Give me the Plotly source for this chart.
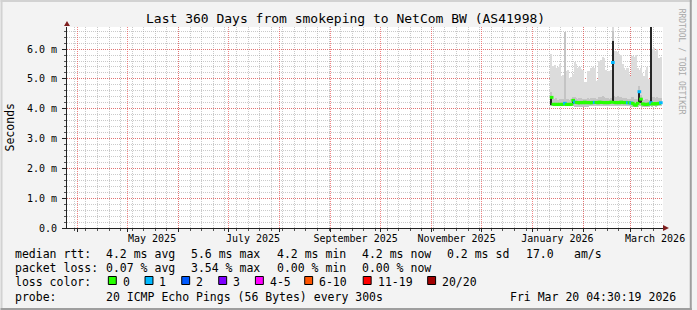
import pandas as pd
import plotly.graph_objects as go

# ---------------- data ----------------
TITLE = "Last 360 Days from smokeping to NetCom BW (AS41998)"
days = pd.date_range("2026-01-12", periods=67, freq="D")

median_ms = [4.38, 4.15, 4.14, 4.15, 4.14, 4.15, 4.14, 4.15, 4.18, 4.14,
             4.15, 4.14, 4.15, 4.28, 4.22, 4.21, 4.20, 4.20, 4.21, 4.20,
             4.22, 4.20, 4.21, 4.20, 4.20, 4.21, 4.21, 4.21, 4.20, 4.22,
             4.21, 4.21, 4.20, 4.21, 4.20, 4.21, 4.22, 5.55, 4.21, 4.20,
             4.21, 4.20, 4.22, 4.21, 4.20, 4.21, 4.20, 4.20, 4.19, 4.18,
             4.13, 4.12, 4.18, 4.57, 4.32, 4.16, 4.15, 4.14, 4.15, 4.16,
             4.20, 4.16, 4.17, 4.16, 4.17, 4.18, 4.20]
loss = [0, 0, 0, 0, 0, 0, 0, 0, 1, 0,
        0, 0, 0, 0, 1, 0, 0, 0, 0, 0,
        0, 0, 0, 0, 0, 0, 1, 0, 0, 0,
        0, 0, 0, 0, 0, 0, 0, 1, 0, 0,
        0, 0, 0, 0, 0, 0, 1, 0, 1, 0,
        0, 0, 0, 1, 0, 0, 0, 0, 0, 0,
        1, 0, 0, 0, 0, 0, 1]
smoke_min = [4.08, 4.08, 4.08, 4.09, 4.08, 4.08, 4.09, 4.08, 4.08, 4.08,
             4.09, 4.08, 4.08, 4.08, 4.05, 4.05, 4.06, 4.05, 4.05, 4.06,
             4.05, 4.05, 4.06, 4.08, 4.08, 4.08, 4.09, 4.08, 4.08, 4.08,
             4.09, 4.08, 4.08, 4.08, 4.09, 4.08, 4.08, 4.08, 4.08, 4.08,
             4.09, 4.08, 4.08, 4.08, 4.08, 4.09, 4.08, 4.08, 4.07, 4.07,
             4.05, 4.05, 4.07, 4.08, 4.08, 4.07, 4.06, 4.06, 4.07, 4.07,
             4.08, 4.07, 4.08, 4.07, 4.08, 4.08, 4.08]
smoke_mid = [4.55, 4.33, 4.32, 4.35, 4.30, 4.34, 4.31, 4.33, 6.57, 4.32,
             4.33, 4.30, 4.32, 4.40, 4.38, 4.36, 4.34, 4.35, 4.37, 4.34,
             4.32, 4.33, 4.36, 4.34, 4.35, 4.37, 4.36, 4.33, 4.34, 4.40,
             4.38, 4.42, 4.40, 4.36, 4.35, 4.34, 4.36, 6.60, 4.42, 4.40,
             4.41, 4.38, 4.40, 4.37, 4.35, 4.36, 4.34, 4.33, 4.32, 4.38,
             4.33, 4.32, 4.34, 4.75, 4.45, 4.32, 4.30, 4.31, 4.33, 4.30,
             6.80, 4.38, 4.40, 4.37, 4.39, 4.36, 4.37]
smoke_max = [5.83, 5.43, 5.45, 5.38, 5.40, 5.49, 5.10, 5.12, 6.57, 5.27,
             5.30, 5.04, 5.05, 5.17, 5.55, 5.50, 5.38, 5.40, 5.33, 5.30,
             4.88, 4.90, 5.27, 5.25, 5.38, 5.40, 5.36, 4.93, 4.95, 5.60,
             5.62, 5.75, 5.70, 5.30, 5.27, 5.25, 5.30, 6.80, 5.93, 5.95,
             5.90, 5.83, 5.80, 5.50, 5.38, 5.30, 5.35, 5.17, 5.10, 5.77,
             5.75, 5.80, 5.38, 5.30, 5.38, 5.20, 5.10, 5.30, 5.40, 5.00,
             6.80, 6.00, 6.05, 5.95, 6.00, 5.70, 5.72]
# dense (dark) part of the smoke, only where pings piled up away from the median
dark_lo = [4.13, None, None, None, None, None, None, None, None, None,
           None, None, None, 4.15, None, None, None, None, None, None,
           None, None, None, None, None, None, None, None, None, None,
           None, None, None, None, None, None, None, 4.20, None, None,
           None, None, None, None, None, None, None, None, None, None,
           None, None, None, 4.20, 4.18, None, None, None, None, None,
           4.15, None, None, None, None, None, None]
dark_hi = [4.38, None, None, None, None, None, None, None, None, None,
           None, None, None, 4.28, None, None, None, None, None, None,
           None, None, None, None, None, None, None, None, None, None,
           None, None, None, None, None, None, None, 6.27, None, None,
           None, None, None, None, None, None, None, None, None, None,
           None, None, None, 4.60, 4.32, None, None, None, None, None,
           6.80, None, None, None, None, None, None]

y_tickvals = [0, 1, 2, 3, 4, 5, 6]
y_ticktext = ["0.0", "1.0 m", "2.0 m", "3.0 m", "4.0 m", "5.0 m", "6.0 m"]
x_label_dates = ["2025-05-16", "2025-07-16", "2025-09-16", "2025-11-16", "2026-01-16", "2026-03-16"]
x_label_text = ["May 2025", "July 2025", "September 2025", "November 2025", "January 2026", "March 2026"]
x_range = ["2025-03-25 14:00", "2026-03-20 19:00"]

loss_labels = ["0", "1", "2", "3", "4-5", "6-10", "11-19", "20/20"]
loss_colors = ["#26ff00", "#00b8ff", "#0059ff", "#7e00ff", "#ff00ff", "#ff5500", "#ff0000", "#a10000"]
loss_upper = [0, 1, 2, 3, 5, 10, 19, 20]

stat_rows = [
    [("median rtt:", 16), ("4.2 ms avg", 107.3), ("5.6 ms max", 193.3), ("4.2 ms min", 280),
     ("4.2 ms now", 365), ("0.2 ms sd", 451), ("17.0", 530.7), ("am/s", 579.3)],
    [("packet loss:", 16), ("0.07 % avg", 107.3), ("3.54 % max", 193.3), ("0.00 % min", 280),
     ("0.00 % now", 365)],
    [("loss color:", 16)],
    [("probe:", 16), ("20 ICMP Echo Pings (56 Bytes) every 300s", 107.3)],
]
timestamp = "Fri Mar 20 04:30:19 2026"
credit = "RRDTOOL / TOBI OETIKER"

# ---------------- layout helpers ----------------
W, H = 697, 310
PL, PR, PT, PB = 67, 668, 27, 228
MONO = "DejaVu Sans Mono"


def px(x):
    return (x - PL) / (PR - PL)


def py(y):
    return (PB - y) / (PB - PT)


def loss_color(n):
    for up, c in zip(loss_upper, loss_colors):
        if n <= up:
            return c
    return loss_colors[-1]


centers = days + pd.Timedelta(hours=12)
day_ms = 86400000

fig = go.Figure()


def band(lo, hi, color):
    xs, base, h = [], [], []
    for c, a, b in zip(centers, lo, hi):
        if a is None or b is None:
            continue
        xs.append(c)
        base.append(a)
        h.append(b - a)
    fig.add_trace(go.Bar(x=xs, y=h, base=base, width=day_ms, marker=dict(color=color, line=dict(width=0)),
                         showlegend=False, hoverinfo="skip"))


band(smoke_min, smoke_max, "#dcdcdc")
band(smoke_min, smoke_mid, "#c4c4c4")
band(dark_lo, dark_hi, "#262626")

fig.add_trace(go.Scatter(
    x=centers, y=median_ms, mode="markers",
    marker=dict(symbol="line-ew", size=2.6, line=dict(width=3, color=[loss_color(n) for n in loss])),
    showlegend=False, hoverinfo="skip"))

# invisible trace that carries the label axis
fig.add_trace(go.Scatter(x=[centers[0]], y=[None], xaxis="x2", showlegend=False, hoverinfo="skip"))

month_starts = pd.date_range("2025-04-01", "2026-03-01", freq="MS")

grid_major = "rgba(235,80,80,0.7)"
grid_minor = "rgba(150,150,150,0.5)"

fig.update_layout(
    width=W, height=H,
    margin=dict(l=PL, r=W - PR, t=PT, b=H - PB, pad=0),
    paper_bgcolor="#f3f3f3", plot_bgcolor="#ffffff",
    barmode="overlay", bargap=0,
    font=dict(family=MONO, color="#000"),
    xaxis=dict(type="date", range=x_range, tickvals=list(month_starts), showticklabels=False,
               showgrid=True, gridcolor=grid_major, griddash="1px,1px", gridwidth=1,
               ticks="outside", ticklen=3, tickcolor="#222",
               minor=dict(dtick=7 * day_ms, tick0="2025-03-30", showgrid=True, gridcolor=grid_minor,
                          griddash="1px,1px", gridwidth=1, ticks="outside", ticklen=2, tickcolor="#555"),
               showline=True, linecolor="#222", linewidth=1, zeroline=False, fixedrange=True),
    xaxis2=dict(type="date", range=x_range, overlaying="x", anchor="y", side="bottom",
                tickvals=x_label_dates, ticktext=x_label_text, showgrid=False, ticks="",
                showline=False, zeroline=False, tickfont=dict(family=MONO, size=10, color="#000"),
                ticklabelstandoff=3, fixedrange=True),
    yaxis=dict(range=[0, 6.74], tickvals=y_tickvals, ticktext=y_ticktext,
               showgrid=True, gridcolor=grid_major, griddash="1px,1px", gridwidth=1,
               ticks="outside", ticklen=4, tickcolor="#222",
               minor=dict(dtick=0.2, showgrid=True, gridcolor=grid_minor, griddash="1px,1px", gridwidth=1,
                          ticks="outside", ticklen=2, tickcolor="#555"),
               showline=True, linecolor="#222", linewidth=1, zeroline=False,
               tickfont=dict(family=MONO, size=10, color="#000"), ticklabelstandoff=3, fixedrange=True),
)

ann = []
ann.append(dict(text=TITLE, x=px(347.5), y=py(19), xref="paper", yref="paper", showarrow=False,
                xanchor="center", yanchor="middle", font=dict(family=MONO, size=13, color="#000")))
ann.append(dict(text="Seconds", x=px(10), y=py(127), xref="paper", yref="paper", showarrow=False,
                textangle=-90, xanchor="center", yanchor="middle", font=dict(family=MONO, size=11.5, color="#000")))
ann.append(dict(text=credit, x=px(687.5), y=py(62), xref="paper", yref="paper", showarrow=False,
                textangle=90, xanchor="center", yanchor="middle", font=dict(family=MONO, size=8, color="#a8a8a8")))

row_y = [254, 268.3, 282.3, 296.7]
for r, items in enumerate(stat_rows):
    for text, x in items:
        ann.append(dict(text=text.replace(" ", "&nbsp;"), x=px(x - 1), y=py(row_y[r]), xref="paper", yref="paper",
                        showarrow=False, xanchor="left", yanchor="middle", borderpad=0, borderwidth=0,
                        font=dict(family=MONO, size=11.5, color="#000")))
ann.append(dict(text=timestamp.replace(" ", "&nbsp;"), x=px(681), y=py(row_y[3]), xref="paper", yref="paper",
                showarrow=False, xanchor="right", yanchor="middle", borderpad=0, borderwidth=0,
                font=dict(family=MONO, size=11.5, color="#000")))

shapes = []
box_x = [108.7, 145.7, 182.7, 220, 257, 306.7, 365.7, 430.7]
for bx, lab, col in zip(box_x, loss_labels, loss_colors):
    shapes.append(dict(type="rect", xref="paper", yref="paper", x0=px(bx), x1=px(bx + 8),
                       y0=py(276.5), y1=py(284.5), fillcolor=col, line=dict(color="#000", width=1)))
    ann.append(dict(text=lab, x=px(bx + 14.5), y=py(row_y[2]), xref="paper", yref="paper",
                    showarrow=False, xanchor="left", yanchor="middle", borderpad=0, borderwidth=0,
                    font=dict(family=MONO, size=11.5, color="#000")))

# frame
shade_a, shade_b = "#d2d2d2", "#9e9e9e"
shapes += [
    dict(type="rect", xref="paper", yref="paper", x0=px(0), x1=px(W), y0=py(0), y1=py(2), fillcolor=shade_a, line=dict(width=0), layer="below"),
    dict(type="rect", xref="paper", yref="paper", x0=px(0), x1=px(2), y0=py(0), y1=py(H), fillcolor=shade_a, line=dict(width=0), layer="below"),
    dict(type="rect", xref="paper", yref="paper", x0=px(0), x1=px(W), y0=py(H - 2), y1=py(H), fillcolor=shade_b, line=dict(width=0), layer="below"),
    dict(type="rect", xref="paper", yref="paper", x0=px(W - 2), x1=px(W), y0=py(0), y1=py(H), fillcolor=shade_b, line=dict(width=0), layer="below"),
]
# axis arrows
arrow = "#7f1f1f"
shapes.append(dict(type="path", xref="paper", yref="paper",
                   path=f"M {px(64)},{py(26)} L {px(70)},{py(26)} L {px(67)},{py(21)} Z",
                   fillcolor=arrow, line=dict(color=arrow, width=0)))
shapes.append(dict(type="path", xref="paper", yref="paper",
                   path=f"M {px(668)},{py(225)} L {px(668)},{py(231)} L {px(674)},{py(228)} Z",
                   fillcolor=arrow, line=dict(color=arrow, width=0)))

fig.update_layout(annotations=ann, shapes=shapes)
fig.write_html("out.html")
